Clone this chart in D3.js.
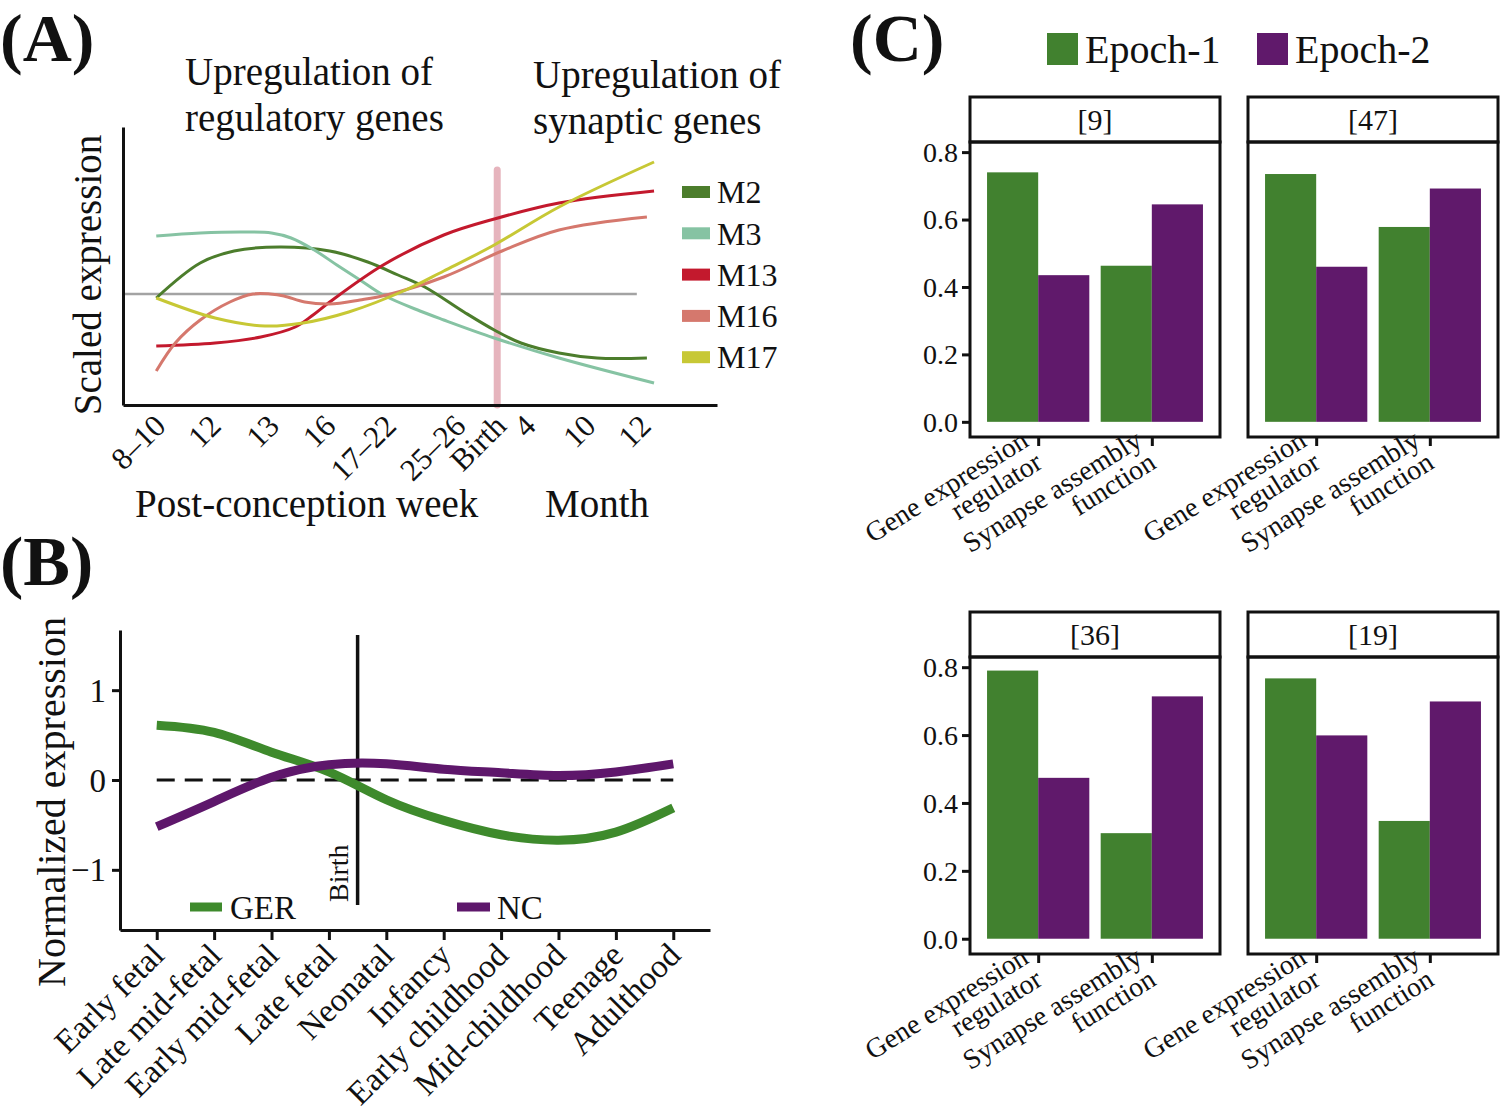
<!DOCTYPE html>
<html><head><meta charset="utf-8">
<script src="https://cdn.jsdelivr.net/npm/d3@7"></script>
<style>body{margin:0;background:#fff}svg{display:block}text{font-family:"Liberation Serif","Times New Roman",serif;fill:#111}</style>
</head><body><svg id="c" width="1500" height="1117"></svg>
<script>
// ---------- Panel A data ----------
const tickLabelsA = ["8–10","12","13","16","17–22","25–26","Birth","4","10","12"];
const tickPosA = [6.2,15.5,25.3,34.8,45,56.7,63.5,68.5,78.6,87.9];
const birthPosA = 63;
const seriesNamesA = ["M2","M3","M13","M16","M17"];
const seriesColorsA = ["#4c7d2c","#86c3a3","#c3192d","#d5786d","#c7c835"];
const m2 = [[5.6,-0.04],[13,0.31],[18.7,0.43],[26.4,0.47],[34.8,0.43],[41.2,0.32],[46.3,0.19],[50.8,0.07],[57.4,-0.18],[62.5,-0.36],[67,-0.49],[73.4,-0.59],[79.8,-0.64],[88.2,-0.64]];
const m3 = [[5.6,0.58],[13,0.61],[20.5,0.62],[25,0.61],[28.3,0.56],[32.2,0.44],[36,0.29],[39.9,0.14],[43.8,-0.01],[50,-0.17],[54,-0.26],[62.5,-0.44],[73.4,-0.64],[89.4,-0.89]];
const m13 = [[5.6,-0.52],[15.5,-0.49],[23.2,-0.43],[29,-0.33],[32,-0.21],[34.8,-0.08],[43.8,0.29],[54,0.59],[62.5,0.75],[73.4,0.91],[89.4,1.03]];
const m16 = [[5.6,-0.77],[8.8,-0.49],[13,-0.26],[18,-0.08],[21.9,0],[24.8,0],[27.1,-0.02],[30.6,-0.08],[34.8,-0.1],[39.9,-0.06],[44.4,-0.01],[54,0.17],[63.8,0.43],[73.4,0.64],[88.2,0.77]];
const m17 = [[5.6,-0.04],[15.5,-0.24],[23.9,-0.32],[30.3,-0.29],[38,-0.18],[47.6,0.04],[54,0.23],[62.5,0.49],[73.4,0.87],[89.4,1.32]];
const seriesA = [m2,m3,m13,m16,m17];

// ---------- Panel B data ----------
const stagesB = ["Early fetal","Late mid-fetal","Early mid-fetal","Late fetal","Neonatal","Infancy","Early childhood","Mid-childhood","Teenage","Adulthood"];
const gerB = [0.61,0.53,0.31,0.09,-0.22,-0.45,-0.61,-0.67,-0.58,-0.31];
const ncB = [-0.52,-0.24,0.03,0.17,0.18,0.12,0.08,0.05,0.09,0.18];
const yTicksB = [1,0,-1];

// ---------- Panel C data ----------
const facetLabels = ["[9]","[47]","[36]","[19]"];
const categoriesC = ["Gene expression\nregulator","Synapse assembly\nfunction"];
const epochs = ["Epoch-1","Epoch-2"];
const gerEpoch1 = [0.74,0.735,0.79,0.767];
const gerEpoch2 = [0.435,0.46,0.474,0.599];
const synEpoch1 = [0.463,0.578,0.311,0.347];
const synEpoch2 = [0.645,0.692,0.714,0.699];
const yTicksC = [0,0.2,0.4,0.6,0.8];

const svg = d3.select("#c");
const green = "#41812f", purple = "#60196b";

// ================= Panel A =================
const xA = d3.scaleLinear().domain([0,100]).range([123,717]);
const yA = d3.scaleLinear().domain([-1.11,1.67]).range([405,127]);
const gA = svg.append("g");
gA.append("text").attr("x",0).attr("y",61).attr("font-size",68).attr("font-weight","bold").text("(A)");
gA.append("text").attr("x",185).attr("y",85).attr("font-size",39).text("Upregulation of");
gA.append("text").attr("x",185).attr("y",131).attr("font-size",39).text("regulatory genes");
gA.append("text").attr("x",533).attr("y",88).attr("font-size",39).text("Upregulation of");
gA.append("text").attr("x",533).attr("y",134).attr("font-size",39).text("synaptic genes");
gA.append("text").attr("transform","translate(101,275) rotate(-90)").attr("text-anchor","middle").attr("font-size",39).text("Scaled expression");
// zero line
gA.append("line").attr("x1",xA(0)).attr("x2",xA(86.5)).attr("y1",yA(0)).attr("y2",yA(0)).attr("stroke","#a3a3a3").attr("stroke-width",2.5);
// birth line
gA.append("line").attr("x1",xA(birthPosA)).attr("x2",xA(birthPosA)).attr("y1",yA(1.24)).attr("y2",yA(-1.11)).attr("stroke","#e6b4bd").attr("stroke-width",7).attr("stroke-linecap","round");
const lineA = d3.line().x(d=>xA(d[0])).y(d=>yA(d[1])).curve(d3.curveCatmullRom.alpha(0.5));
seriesA.forEach((s,i)=>{
  gA.append("path").attr("d",lineA(s)).attr("fill","none").attr("stroke",seriesColorsA[i]).attr("stroke-width",3);
});
// axes
const axAx = d3.axisBottom(xA).tickValues([]).tickSizeOuter(0);
gA.append("g").attr("transform","translate(0,405)").call(axAx).call(g=>g.select(".domain").attr("stroke","#111").attr("stroke-width",3));
const axAy = d3.axisLeft(yA).tickValues([]).tickSizeOuter(0);
gA.append("g").attr("transform","translate(123,0)").call(axAy).call(g=>g.select(".domain").attr("stroke","#111").attr("stroke-width",3));
tickLabelsA.forEach((t,i)=>{
  gA.append("text").attr("transform",`translate(${xA(tickPosA[i])},420) rotate(-45)`).attr("text-anchor","end").attr("dy","0.35em").attr("font-size",31).text(t);
});
gA.append("text").attr("x",135).attr("y",517).attr("font-size",39).text("Post-conception week");
gA.append("text").attr("x",545).attr("y",517).attr("font-size",39).text("Month");
// legend A
seriesNamesA.forEach((n,i)=>{
  const y = 192 + i*41.3;
  gA.append("rect").attr("x",682).attr("y",y-6).attr("width",28).attr("height",12).attr("fill",seriesColorsA[i]);
  gA.append("text").attr("x",717).attr("y",y).attr("dy","0.35em").attr("font-size",32).text(n);
});

// ================= Panel B =================
const xB = d3.scalePoint().domain(stagesB).range([120,710]).padding(0.64);
const yB = d3.scaleLinear().domain([-1.67,1.67]).range([930,630]);
const gB = svg.append("g");
gB.append("text").attr("x",0).attr("y",585).attr("font-size",70).attr("font-weight","bold").text("(B)");
gB.append("text").attr("transform","translate(65,802) rotate(-90)").attr("text-anchor","middle").attr("font-size",40).text("Normalized expression");
gB.append("line").attr("x1",xB(stagesB[0])).attr("x2",xB(stagesB[9])).attr("y1",yB(0)).attr("y2",yB(0)).attr("stroke","#111").attr("stroke-width",3).attr("stroke-dasharray","18,10");
const birthX = (xB("Late fetal")+xB("Neonatal"))/2;
gB.append("line").attr("x1",birthX).attr("x2",birthX).attr("y1",635).attr("y2",905).attr("stroke","#111").attr("stroke-width",3.5);
gB.append("text").attr("transform",`translate(${birthX-10},902) rotate(-90)`).attr("font-size",28).text("Birth");
const lineB = d3.line().x((d,i)=>xB(stagesB[i])).y(d=>yB(d)).curve(d3.curveNatural);
gB.append("path").attr("d",lineB(gerB)).attr("fill","none").attr("stroke","#3e8a2c").attr("stroke-width",9);
gB.append("path").attr("d",lineB(ncB)).attr("fill","none").attr("stroke","#5e176b").attr("stroke-width",9);
const axBx = d3.axisBottom(xB).tickSize(10).tickSizeOuter(0).tickFormat("");
gB.append("g").attr("transform","translate(0,930)").call(axBx)
  .call(g=>{g.select(".domain").attr("stroke","#111").attr("stroke-width",3);g.selectAll(".tick line").attr("stroke","#111").attr("stroke-width",3);});
const axBy = d3.axisLeft(yB).tickValues(yTicksB).tickSize(8).tickSizeOuter(0).tickFormat("");
gB.append("g").attr("transform","translate(120,0)").call(axBy)
  .call(g=>{g.select(".domain").attr("stroke","#111").attr("stroke-width",3);g.selectAll(".tick line").attr("stroke","#111").attr("stroke-width",3);});
yTicksB.forEach(v=>{
  gB.append("text").attr("x",106).attr("y",yB(v)).attr("dy","0.35em").attr("text-anchor","end").attr("font-size",33).text(v<0?"−"+Math.abs(v):v);
});
stagesB.forEach(s=>{
  gB.append("text").attr("transform",`translate(${xB(s)+1},949) rotate(-45)`).attr("text-anchor","end").attr("dy","0.35em").attr("font-size",33).text(s);
});
// legend B
gB.append("line").attr("x1",190).attr("x2",222).attr("y1",907).attr("y2",907).attr("stroke","#3e8a2c").attr("stroke-width",9);
gB.append("text").attr("x",230).attr("y",907).attr("dy","0.35em").attr("font-size",33).text("GER");
gB.append("line").attr("x1",457).attr("x2",490).attr("y1",907).attr("y2",907).attr("stroke","#5e176b").attr("stroke-width",9);
gB.append("text").attr("x",497).attr("y",907).attr("dy","0.35em").attr("font-size",33).text("NC");

// ================= Panel C =================
const gC = svg.append("g");
gC.append("text").attr("x",850).attr("y",61).attr("font-size",68).attr("font-weight","bold").text("(C)");
[[green,1047,"Epoch-1",1085],[purple,1257,"Epoch-2",1295]].forEach(([c,x,t,tx])=>{
  gC.append("rect").attr("x",x).attr("y",33).attr("width",31).attr("height",32).attr("fill",c);
  gC.append("text").attr("x",tx).attr("y",49).attr("dy","0.35em").attr("font-size",40).text(t);
});
const colX = [970,1248], stripTop=[97,612], stripH=45, panelH=[295,297], panelW=250;
facetLabels.forEach((lab,fi)=>{
  const col = fi%2, row = Math.floor(fi/2);
  const x0 = colX[col], sTop = stripTop[row], pTop = sTop+stripH, pBot = pTop+panelH[row];
  const x = d3.scalePoint().domain(categoriesC).range([x0,x0+panelW]).padding(0.6);
  const step = x.step(), bw = step*0.9/2;
  const y = d3.scaleLinear().domain([-0.045,0.83]).range([pBot,pTop]);
  const vals = [[gerEpoch1[fi],gerEpoch2[fi]],[synEpoch1[fi],synEpoch2[fi]]];
  categoriesC.forEach((c,ci)=>{
    vals[ci].forEach((v,ei)=>{
      gC.append("rect").attr("x",x(c)-bw+ei*bw).attr("y",y(v)).attr("width",bw).attr("height",y(0)-y(v)).attr("fill",ei?purple:green);
    });
  });
  // panel border
  gC.append("rect").attr("x",x0).attr("y",pTop).attr("width",panelW).attr("height",pBot-pTop).attr("fill","none").attr("stroke","#111").attr("stroke-width",3);
  gC.append("rect").attr("x",x0).attr("y",sTop).attr("width",panelW).attr("height",stripH).attr("fill","none").attr("stroke","#111").attr("stroke-width",3);
  gC.append("text").attr("x",x0+panelW/2).attr("y",sTop+stripH/2).attr("dy","0.35em").attr("text-anchor","middle").attr("font-size",30).text(lab);
  // x axis ticks
  const ax = d3.axisBottom(x).tickSize(9).tickSizeOuter(0).tickFormat("");
  gC.append("g").attr("transform",`translate(0,${pBot})`).call(ax)
    .call(g=>{g.select(".domain").remove();g.selectAll(".tick line").attr("stroke","#111").attr("stroke-width",3);});
  categoriesC.forEach(c=>{
    const lines = c.split("\n");
    const t = gC.append("text").attr("transform",`translate(${x(c)-8},${pBot+8}) rotate(-32)`).attr("text-anchor","end").attr("font-size",28);
    lines.forEach((l,li)=>t.append("tspan").attr("x",0).attr("y",li*26).text(l));
  });
  if(col===0){
    const ay = d3.axisLeft(y).tickValues(yTicksC).tickSize(8).tickSizeOuter(0).tickFormat("");
    gC.append("g").attr("transform",`translate(${x0},0)`).call(ay)
      .call(g=>{g.select(".domain").remove();g.selectAll(".tick line").attr("stroke","#111").attr("stroke-width",3);});
    yTicksC.forEach(v=>{
      gC.append("text").attr("x",x0-12).attr("y",y(v)).attr("dy","0.35em").attr("text-anchor","end").attr("font-size",28).text(v.toFixed(1));
    });
  }
});
</script></body></html>
